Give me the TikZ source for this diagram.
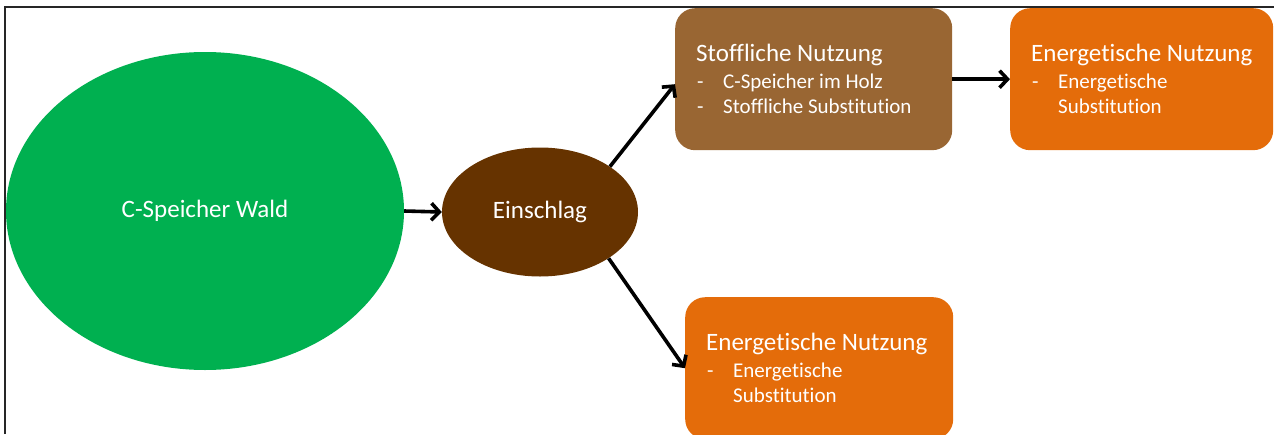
\documentclass[tikz,border=0pt]{standalone}
\usepackage{fontspec}
\setmainfont{Carlito}[Ligatures=NoCommon]
\usetikzlibrary{arrows.meta,shapes.geometric,calc}
\definecolor{wgreen}{HTML}{00B050}
\definecolor{ebrown}{HTML}{663300}
\definecolor{sbrown}{HTML}{996633}
\definecolor{eorange}{HTML}{E46C0A}
\definecolor{framec}{HTML}{262626}
\newcommand{\bdash}{\makebox[26pt][l]{-}}
\newcommand{\bnone}{\makebox[26pt][l]{}}
\begin{document}
\begin{tikzpicture}[x=1pt,y=-1pt,
  oval/.style={ellipse, inner sep=0pt, text=white, font=\fontsize{25}{29}\selectfont},
  boxnode/.style={rectangle, rounded corners=20pt, inner sep=0pt, minimum height=142pt, anchor=north west},
  ttl/.style={anchor=base west, inner sep=0pt, text=white, font=\fontsize{25}{29}\selectfont},
  bul/.style={anchor=base west, inner sep=0pt, text=white, font=\fontsize{21}{25}\selectfont},
  conn/.style={line width=3.6pt, -{Straight Barb[length=8pt,width=17pt]}},
  framel/.style={draw=framec, line width=1.5pt}
]
\useasboundingbox (0,0) rectangle (1274,434);
\clip (0,0) rectangle (1274,434);

% ellipses
\node[oval, fill=wgreen, minimum width=398pt, minimum height=318pt] (wald) at (205,211) {\raisebox{-2pt}{C-Speicher Wald}};
\node[oval, fill=ebrown, minimum width=196pt, minimum height=129pt] (einschlag) at (540,212) {\raisebox{-2pt}{Einschlag}};

% boxes
\node[boxnode, fill=sbrown, minimum width=277pt] (stoff) at (675,8) {};
\node[boxnode, fill=eorange, minimum width=263pt] (energr) at (1010,8) {};
\node[boxnode, fill=eorange, minimum width=268pt] (energb) at (685,297) {};

% texts in Stoffliche Nutzung
\node[ttl] (stofft) at (696,61) {Stoffliche Nutzung};
\node[bul] (stoffa) at (697,88) {\bdash C-Speicher im Holz};
\node[bul] (stoffb) at (697,113) {\bdash Stoffliche Substitution};

% texts in right Energetische Nutzung
\node[ttl] (energrt) at (1031,61) {Energetische Nutzung};
\node[bul] (energra) at (1032,88) {\bdash Energetische};
\node[bul] (energrb) at (1032,113) {\bnone Substitution};

% texts in bottom Energetische Nutzung
\node[ttl] (energbt) at (706,350) {Energetische Nutzung};
\node[bul] (energba) at (707,377) {\bdash Energetische};
\node[bul] (energbb) at (707,402) {\bnone Substitution};

% connectors
\draw[conn] (wald.east) -- (einschlag.west);
\draw[conn] (einschlag.33) -- ([yshift=-5pt]stoff.west);
\draw[conn] (einschlag.-34) -- (energb.west);
\draw[conn] (stoff.east) -- (energr.west);

% frame
\draw[framel] (5,434) -- (5,7) -- (1274,7);
\end{tikzpicture}
\end{document}
